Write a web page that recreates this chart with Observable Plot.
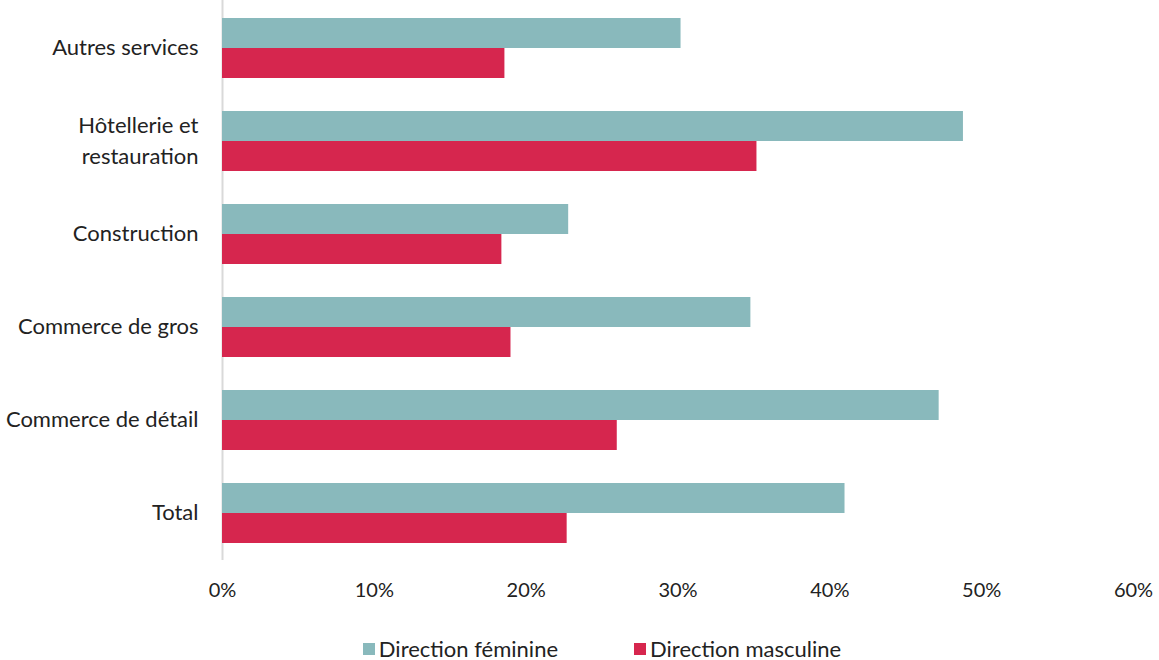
<!DOCTYPE html>
<html>
<head>
<meta charset="utf-8">
<script src="https://cdn.jsdelivr.net/npm/d3@7"></script>
<script src="https://cdn.jsdelivr.net/npm/@observablehq/plot@0.6"></script>
<style>
  body { margin: 0; background: #fff; font-family: Lato, "Open Sans", sans-serif; color: #222; overflow: hidden; }
  #chart svg { display: block; }
  .legend { display: flex; justify-content: center; align-items: center; gap: 76px; padding-left: 45px;
            font-size: 22px; line-height: 22px; margin-top: 32px; }
  .legend span.item { display: flex; align-items: center; gap: 4px; }
  .legend i { display: inline-block; width: 12px; height: 12px; }
</style>
</head>
<body>
<div id="chart"></div>
<script>
// Sectors, top to bottom
const categories = [
  "Autres services",
  "Hôtellerie et restauration",
  "Construction",
  "Commerce de gros",
  "Commerce de détail",
  "Total"
];
// Axis labels (wrapped where needed)
const categoryLabels = [
  "Autres services",
  "Hôtellerie et\nrestauration",
  "Construction",
  "Commerce de gros",
  "Commerce de détail",
  "Total"
];
const seriesNames = ["Direction féminine", "Direction masculine"];
const seriesColors = ["#89B9BC", "#D6264E"];
// Share (%) per sector
const feminine  = [30.2, 48.8, 22.8, 34.8, 47.2, 41.0];
const masculine = [18.6, 35.2, 18.4, 19.0, 26.0, 22.7];
const xTicks = [0, 10, 20, 30, 40, 50, 60];

const rows = categories.flatMap((c, i) => [
  {category: c, series: seriesNames[0], value: feminine[i]},
  {category: c, series: seriesNames[1], value: masculine[i]}
]);
const labelOf = new Map(categories.map((c, i) => [c, categoryLabels[i]]));

const chart = Plot.plot({
  width: 1159,
  height: 606,
  marginLeft: 222,
  marginRight: 26,
  marginTop: 0,
  marginBottom: 46,
  style: {fontFamily: "Lato, 'Open Sans', sans-serif", fontSize: "20px", color: "#222"},
  x: {domain: [0, 60], ticks: xTicks, tickFormat: d => `${d}%`},
  y: {domain: categories, paddingInner: 0.357, paddingOuter: 0.1785},
  color: {domain: seriesNames, range: seriesColors},
  marks: [
    Plot.ruleX([0], {stroke: "#d9d9d9", strokeWidth: 2}),
    Plot.barX(rows.filter(d => d.series === seriesNames[0]), {
      x: "value", y: "category", fill: "series", insetBottom: 30, insetTop: 0
    }),
    Plot.barX(rows.filter(d => d.series === seriesNames[1]), {
      x: "value", y: "category", fill: "series", insetTop: 30, insetBottom: 0
    }),
    Plot.axisX({ticks: xTicks, tickFormat: d => `${d}%`, tickSize: 0, tickPadding: 22, fontSize: 20, label: null}),
    Plot.axisY({tickSize: 0, tickPadding: 24, fontSize: 22, lineHeight: 1.4, dy: -3, label: null,
      tickFormat: d => labelOf.get(d)})
  ]
});
document.getElementById("chart").appendChild(chart);

// Legend below the chart
const legend = document.createElement("div");
legend.className = "legend";
seriesNames.forEach((name, i) => {
  const item = document.createElement("span");
  item.className = "item";
  const sw = document.createElement("i");
  sw.style.background = seriesColors[i];
  item.appendChild(sw);
  item.appendChild(document.createTextNode(name));
  legend.appendChild(item);
});
document.body.appendChild(legend);
</script>
</body>
</html>
